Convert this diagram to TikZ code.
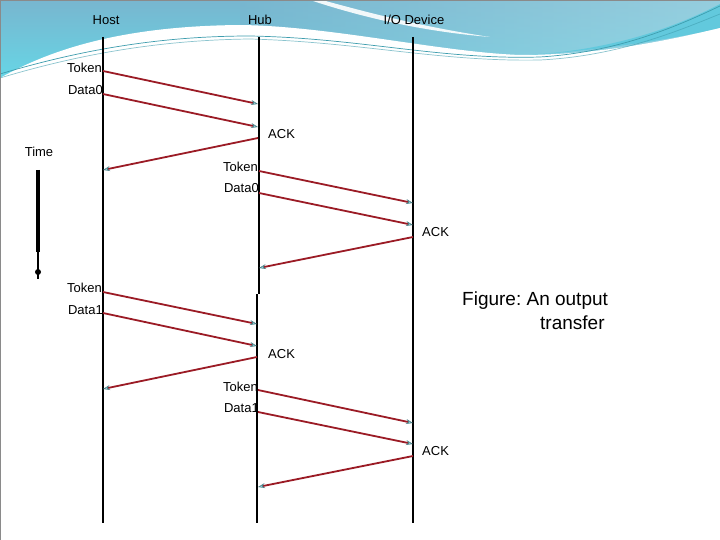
\documentclass[tikz,border=0pt]{standalone}
\usepackage{fontspec}
\setmainfont{Liberation Sans}
\usepackage{tikz}
\usetikzlibrary{arrows.meta}
\definecolor{usbmsg}{HTML}{9B1B25}
\definecolor{usbtip}{HTML}{4F7F86}
\definecolor{usbtipfill}{HTML}{9FE3EA}
\definecolor{usbskytop}{HTML}{78B6CF}
\definecolor{usbskylow}{HTML}{66D6E6}
\definecolor{usbskyright}{HTML}{AADDE8}
\definecolor{usbband}{HTML}{62C9DD}
\definecolor{usbstroke}{HTML}{3E9DAE}
\definecolor{usbframe}{HTML}{8A8A8A}
\newcommand{\usbsize}[1]{\fontsize{#1}{#1}\selectfont}
\frenchspacing

\begin{document}
\begin{tikzpicture}[
    x=1pt, y=-1pt,
    every node/.style={font=\usbsize{13}, inner sep=0pt},
    head/.style={font=\usbsize{13}},
    lbl/.style={font=\usbsize{13}},
    life/.style={line width=2.5pt, black},
    msg/.style={-{Stealth[length=7pt, width=5pt, color=usbtip, fill=usbtipfill, line width=0.6pt]},
                color=usbmsg, line width=1.8pt},
    timeline/.style={line width=3.5pt, black},
    swoosh/.style={usbstroke, line width=0.7pt},
    caption/.style={font=\usbsize{19}, align=left},
  ]
  \useasboundingbox (0,0) rectangle (720,540);

  % slide background
  \shade[top color=usbskytop, bottom color=usbskylow] (0,0) rectangle (720,80);
  \shade[left color=usbskytop, right color=usbskyright, opacity=0.6] (240,0) rectangle (720,60);
  \fill[usbband] (540,54) .. controls (620,48) and (680,25) .. (720,4)
    -- (720,28) .. controls (670,40) and (600,50) .. (520,56) -- cycle;
  \fill[white, opacity=0.9] (322,0) .. controls (380,16) and (430,28) .. (490,37)
    .. controls (430,32) and (370,20) .. (310,0) -- cycle;
  \fill[white] (0,78) .. controls (50,50) and (120,26) .. (240,25)
    .. controls (330,26) and (440,52) .. (520,55)
    .. controls (600,55) and (670,40) .. (720,28)
    -- (720,540) -- (0,540) -- cycle;
  \draw[swoosh] (0,74) .. controls (80,50) and (160,36) .. (250,36)
    .. controls (360,38) and (440,60) .. (540,57)
    .. controls (620,52) and (680,25) .. (720,6);
  \draw[swoosh, opacity=0.6] (0,78) .. controls (80,54) and (160,40) .. (250,39)
    .. controls (360,42) and (440,62) .. (540,60)
    .. controls (620,56) and (680,30) .. (720,14);
  \draw[usbframe, line width=0.8pt] (0,0) rectangle (720,540);

  % lifelines
  \node[head] (host) at (106,20) {Host};
  \node[head] (hub) at (260,20) {Hub};
  \node[head] (dev) at (414,20) {I/O Device};

  \draw[life] (103,37) -- (103,523);
  \draw[life] (259,37) -- (259,294);
  \draw[life] (257,294) -- (257,523);
  \draw[life] (413,37) -- (413,523);

  % time axis
  \node[lbl] (time) at (39,152) {Time};
  \coordinate (ttop) at (38,170);
  \coordinate (tmid) at (38,252);
  \coordinate (tbot) at (38,279);
  \draw[timeline] (ttop) -- (tmid);
  \draw[line width=2pt] (tmid) -- (tbot);
  \fill (38,272) circle (3pt);

  % round 1: host -> hub
  \coordinate (hTok1) at (103,71);  \coordinate (bTok1) at (258,104);
  \coordinate (hDat1) at (103,94);  \coordinate (bDat1) at (258,127);
  \coordinate (bAck1) at (258,138); \coordinate (hAck1) at (103,170);
  \node[lbl, anchor=east] (lTok1) at (102,68) {Token};
  \node[lbl, anchor=east] (lDat1) at (103,90) {Data0};
  \node[lbl, anchor=west] (lAck1) at (268,134) {ACK};
  \draw[msg] (hTok1) -- (bTok1);
  \draw[msg] (hDat1) -- (bDat1);
  \draw[msg] (bAck1) -- (hAck1);

  % round 2: hub -> device
  \coordinate (bTok2) at (259,171); \coordinate (dTok2) at (413,203);
  \coordinate (bDat2) at (259,193); \coordinate (dDat2) at (413,225);
  \coordinate (dAck2) at (413,237); \coordinate (bAck2) at (259,268);
  \node[lbl, anchor=east] (lTok2) at (258,167) {Token};
  \node[lbl, anchor=east] (lDat2) at (259,188) {Data0};
  \node[lbl, anchor=west] (lAck2) at (422,232) {ACK};
  \draw[msg] (bTok2) -- (dTok2);
  \draw[msg] (bDat2) -- (dDat2);
  \draw[msg] (dAck2) -- (bAck2);

  % round 3: host -> hub
  \coordinate (hTok3) at (103,292); \coordinate (bTok3) at (257,324);
  \coordinate (hDat3) at (103,313); \coordinate (bDat3) at (257,346);
  \coordinate (bAck3) at (257,357); \coordinate (hAck3) at (103,389);
  \node[lbl, anchor=east] (lTok3) at (102,288) {Token};
  \node[lbl, anchor=east] (lDat3) at (103,310) {Data1};
  \node[lbl, anchor=west] (lAck3) at (268,354) {ACK};
  \draw[msg] (hTok3) -- (bTok3);
  \draw[msg] (hDat3) -- (bDat3);
  \draw[msg] (bAck3) -- (hAck3);

  % round 4: hub -> device
  \coordinate (bTok4) at (258,390); \coordinate (dTok4) at (413,423);
  \coordinate (bDat4) at (258,412); \coordinate (dDat4) at (413,444);
  \coordinate (dAck4) at (413,456); \coordinate (bAck4) at (258,487);
  \node[lbl, anchor=east] (lTok4) at (258,387) {Token};
  \node[lbl, anchor=east] (lDat4) at (259,408) {Data1};
  \node[lbl, anchor=west] (lAck4) at (422,451) {ACK};
  \draw[msg] (bTok4) -- (dTok4);
  \draw[msg] (bDat4) -- (dDat4);
  \draw[msg] (dAck4) -- (bAck4);

  \node[caption, anchor=north west] (cap) at (462,292)
    {Figure: An output\\[5pt]\hspace*{78pt}transfer};
\end{tikzpicture}
\end{document}
